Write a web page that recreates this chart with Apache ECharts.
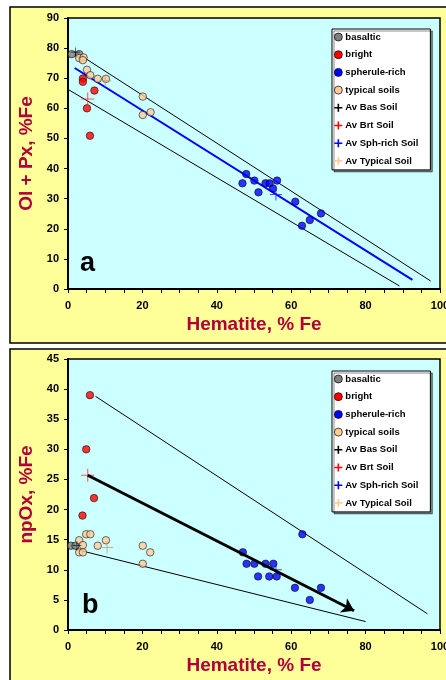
<!DOCTYPE html>
<html><head><meta charset="utf-8">
<script src="https://cdn.jsdelivr.net/npm/echarts@6/dist/echarts.min.js"></script>
<style>html,body{margin:0;padding:0;background:#fff}#c{width:446px;height:680px}</style>
</head><body><div id="c"></div>
<script>
// ---------- Panel a: Ol + Px vs Hematite ----------
const basalticA = [[1,78],[3,78]];
const brightA = [[4,69.9],[4,68.8],[7.1,65.9],[5.1,60],[5.9,50.9]];
const spheruleA = [[47.9,38.2],[46.9,35.1],[50.1,36],[51.2,32.1],[53.1,35.1],[54.2,35.1],[55.1,33.4],[56.2,36],[61.1,29],[62.9,21],[65,22.9],[68,25.1]];
const typicalA = [[3,76.7],[4.2,76.9],[4,76],[5.1,72.8],[6,71],[8,69.8],[10.2,69.8],[20.1,63.9],[20.1,57.8],[22.2,58.7]];
const avBasA = [[2,78.7]];
const avBrtA = [[5.3,63.1]];
const avSphA = [[55.9,31.4]];
const avTypA = [[10,69.2]];
const upperLineA = [[2,78.7],[97.5,2.65]];
const lowerLineA = [[0,66.3],[89.1,1]];
const fitLineA = [[1.8,73.4],[92.6,3]];

// ---------- Panel b: npOx vs Hematite ----------
const basalticB = [[0.8,14],[2,14]];
const brightB = [[5.9,39],[4.9,30],[7,21.9],[3.9,19]];
const spheruleB = [[47,12.9],[48,11],[50.1,11],[51.1,8.9],[53.1,11],[54.1,8.9],[55.2,11],[56.1,8.9],[61,7],[63,15.9],[65,5],[68,7]];
const typicalB = [[3,14.9],[4,14.1],[3,12.9],[4,12.9],[4.9,15.9],[6,15.9],[8,14],[10.2,14.9],[20.1,14],[22.1,12.9],[20.1,11]];
const avBasB = [[2.4,14]];
const avBrtB = [[5.3,25.7]];
const avSphB = [[55.9,10]];
const avTypB = [[10.5,13.7]];
const upperLineB = [[7.4,38.8],[96.6,2.7]];
const lowerLineB = [[2,13.4],[80,1.4]];
const arrowB = [[5.3,25.7],[76.9,3.2]];

const legendNames = ['basaltic','bright','spherule-rich','typical soils','Av Bas Soil','Av Brt Soil','Av Sph-rich Soil','Av Typical Soil'];
const xTitle = 'Hematite, % Fe';
const yTitles = ['Ol + Px, %Fe','npOx, %Fe'];
const panelLetters = ['a','b'];
const xRange = [0,100,20];
const yRanges = [[0,90,10],[0,45,5]];

const FONT = '"Liberation Sans", Arial, sans-serif';
const TITLE_COLOR = '#B0003A';
const PLUS = 'path://M0,5.5H12V6.5H0ZM5.5,0H6.5V12H5.5Z';
const PLUS_LEG = 'path://M0,4.8H12V7.2H0ZM4.8,0H7.2V12H4.8Z';
const colors = {basaltic:'#808080', bright:'#FF0000', sph:'#0000FF', typ:'#FFCC99', avBas:'#000000', avBrt:'#FF3030', avSph:'#2020FF', avTyp:'#C09870'};
const legColors = ['#808080','#FF0000','#0000FF','#FFCC99','#000000','#FF0000','#0000FF','#FFCC99'];

function scatter(name, data, color, idx, isPlus, size) {
  return {
    type:'scatter', name, data, xAxisIndex:idx, yAxisIndex:idx, z:3,
    symbol: isPlus ? PLUS : 'circle',
    symbolSize: size,
    itemStyle: isPlus ? {color} : {color, borderColor:'#000', borderWidth:0.7},
    emphasis:{disabled:true}
  };
}
function line(data, idx, width, color) {
  return {type:'line', data, xAxisIndex:idx, yAxisIndex:idx, symbol:'none', z:2,
    lineStyle:{color, width}, silent:true};
}

const series = [];
[[basalticA,brightA,spheruleA,typicalA,avBasA,avBrtA,avSphA,avTypA],
 [basalticB,brightB,spheruleB,typicalB,avBasB,avBrtB,avSphB,avTypB]].forEach((s,i)=>{
  series.push(scatter('basaltic', s[0], colors.basaltic, i, false, 7.5));
  series.push(scatter('bright', s[1], colors.bright, i, false, 7.5));
  series.push(scatter('spherule-rich', s[2], colors.sph, i, false, 7.5));
  series.push(scatter('typical soils', s[3], colors.typ, i, false, 7.5));
  series.push(scatter('Av Bas Soil', s[4], colors.avBas, i, true, 9));
  series.push(scatter('Av Brt Soil', s[5], colors.avBrt, i, true, 13));
  series.push(scatter('Av Sph-rich Soil', s[6], colors.avSph, i, true, 12));
  series.push(scatter('Av Typical Soil', s[7], colors.avTyp, i, true, 12));
});
series.push(line(upperLineA,0,1,'#000'));
series.push(line(lowerLineA,0,1,'#000'));
series.push(line(fitLineA,0,2,'#0000FF'));
series.push(line(upperLineB,1,1,'#000'));
series.push(line(lowerLineB,1,1,'#000'));
series.push({type:'line', data:[], xAxisIndex:1, yAxisIndex:1, silent:true, z:2,
  markLine:{silent:true, symbol:['none','arrow'], symbolSize:12, label:{show:false},
    lineStyle:{color:'#000', width:3, type:'solid'},
    data:[[{coord:arrowB[0]},{coord:arrowB[1]}]]}});

const grids = [
  {left:68, top:18, width:372, height:271},
  {left:68, top:359, width:372, height:271}
].map(g=>Object.assign(g,{show:true, containLabel:false, outerBoundsMode:'none', backgroundColor:'#CCFFFF', borderColor:'#000', borderWidth:1.5}));

const axisLabel = {color:'#000', fontFamily:FONT, fontWeight:'bold', fontSize:11};
const nameStyle = {color:TITLE_COLOR, fontFamily:FONT, fontWeight:'bold', fontSize:19};

const xAxis = [0,1].map(i=>({
  type:'value', gridIndex:i, min:xRange[0], max:xRange[1], interval:xRange[2],
  name:xTitle, nameLocation:'middle', nameGap:26, nameTextStyle:nameStyle,
  axisLine:{show:true, onZero:false, lineStyle:{color:'#000', width:2}},
  axisTick:{show:true, length:4, lineStyle:{color:'#000'}},
  minorTick:{show:true, splitNumber:4, length:4, lineStyle:{color:'#000'}},
  splitLine:{show:false}, axisLabel:Object.assign({margin:11, hideOverlap:false}, axisLabel)
}));
const yAxis = [0,1].map(i=>({
  type:'value', gridIndex:i, min:yRanges[i][0], max:yRanges[i][1], interval:yRanges[i][2],
  name:yTitles[i], nameLocation:'middle', nameGap:27, nameRotate:90, nameTextStyle:nameStyle,
  axisLine:{show:true, onZero:false, lineStyle:{color:'#000', width:2}},
  axisTick:{show:true, length:4, lineStyle:{color:'#000'}},
  splitLine:{show:false}, axisLabel:Object.assign({margin:9}, axisLabel)
}));

const legendData = legendNames.map((n,k)=>({name:n, icon: k<4 ? 'circle' : PLUS_LEG,
  itemStyle: k<4 ? {color:legColors[k], borderColor:'#000', borderWidth:0.7, opacity:1} : {color:legColors[k], borderWidth:0, opacity:1}}));
const legends = [29, 371].map(t=>({
  left:332, top:t, orient:'vertical', data:legendData,
  backgroundColor:'#fff', borderColor:'#000', borderWidth:1, borderRadius:0,
  shadowColor:'rgba(0,0,0,0.45)', shadowOffsetX:2, shadowOffsetY:2, shadowBlur:0,
  padding:[3,12,4,2], itemWidth:8, itemHeight:8, itemGap:7.7, selectedMode:false,
  textStyle:{color:'#000', fontFamily:FONT, fontWeight:'bold', fontSize:9.5, padding:[0,0,0,-2]}
}));

const chart = echarts.init(document.getElementById('c'), null, {renderer:'canvas'});
chart.setOption({
  animation:false,
  graphic:[
    {type:'rect', z:-10, shape:{x:10, y:7, width:445, height:336}, style:{fill:'#FFFF99', stroke:'#000', lineWidth:1.5}},
    {type:'rect', z:-10, shape:{x:10, y:349, width:445, height:345}, style:{fill:'#FFFF99', stroke:'#000', lineWidth:1.5}},
    {type:'text', z:50, style:{x:80, y:263.5, text:panelLetters[0], font:'bold 27px '+FONT, fill:'#000', textVerticalAlign:'middle'}},
    {type:'text', z:50, style:{x:82, y:605.5, text:panelLetters[1], font:'bold 27px '+FONT, fill:'#000', textVerticalAlign:'middle'}}
  ],
  grid:grids, xAxis, yAxis, legend:legends, series
});
</script></body></html>
